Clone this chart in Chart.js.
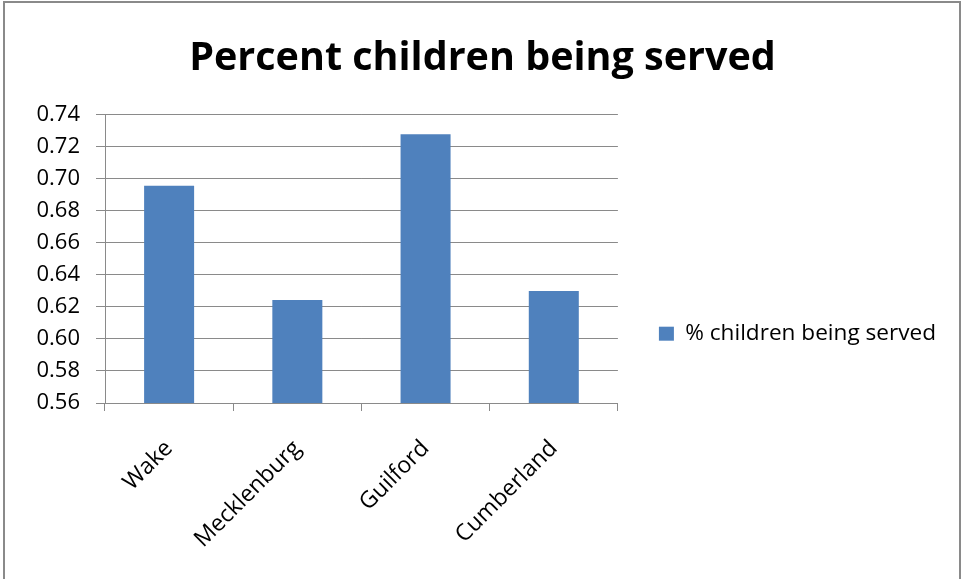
<!DOCTYPE html>
<html>
<head>
<meta charset="utf-8">
<script src="https://cdn.jsdelivr.net/npm/chart.js@4.4.0/dist/chart.umd.min.js"></script>
<style>
  html, body { margin: 0; padding: 0; background: #fff; }
  #wrap { position: relative; width: 964px; height: 579px; }
</style>
</head>
<body>
<div id="wrap"><canvas id="myChart" width="964" height="579"></canvas></div>
<script>
const counties = ['Wake', 'Mecklenburg', 'Guilford', 'Cumberland']
const served = [0.6955, 0.6242, 0.7276, 0.6298]
const seriesName = '% children being served'
const chartTitle = 'Percent children being served'

const fontName = "'Open Sans', 'Noto Sans', sans-serif"

// grey frame round the whole chart
const frame = {
    id: 'frame',
    beforeDraw(chart) {
        const ctx = chart.ctx
        ctx.save()
        ctx.fillStyle = '#fff'
        ctx.fillRect(0, 0, chart.width, chart.height)
        ctx.strokeStyle = '#8a8a8a'
        ctx.lineWidth = 2
        ctx.strokeRect(4, 2, 956, 600)
        ctx.restore()
    }
}

const ctx = document.getElementById('myChart').getContext('2d')
const myChart = new Chart(ctx, {
    type: 'bar',
    data: {
        labels: counties,
        datasets: [{
            label: seriesName,
            data: served,
            backgroundColor: '#4F81BD',
            borderWidth: 0,
            categoryPercentage: 1,
            barPercentage: 0.39
        }]
    },
    options: {
        responsive: false,
        animation: false,
        layout: { padding: { left: 19, right: 18, top: 0, bottom: 0 } },
        plugins: {
            title: {
                display: true,
                text: chartTitle,
                color: '#000',
                font: { family: fontName, size: 39.5, weight: 'bold' },
                padding: { top: 35, bottom: 32 }
            },
            legend: {
                position: 'right',
                maxWidth: 400,
                // empty title only pushes the item down a bit
                title: { display: true, text: '', font: { size: 12 }, padding: { top: 74, bottom: 0 } },
                labels: {
                    color: '#000',
                    font: { family: fontName, size: 22.6 },
                    boxWidth: 15,
                    boxHeight: 14,
                    padding: 41
                }
            },
            tooltip: { enabled: false }
        },
        scales: {
            x: {
                grid: { drawOnChartArea: false, drawTicks: true, tickLength: 8, color: '#8a8a8a' },
                border: { color: '#8a8a8a' },
                ticks: {
                    color: '#000',
                    font: { family: fontName, size: 23 },
                    minRotation: 45,
                    maxRotation: 45,
                    padding: 24
                },
                afterFit(scale) { scale.height = 176 }
            },
            y: {
                min: 0.56,
                max: 0.74,
                grid: { color: '#8a8a8a', tickLength: 9 },
                border: { color: '#8a8a8a' },
                ticks: {
                    stepSize: 0.02,
                    color: '#000',
                    font: { family: fontName, size: 22 },
                    padding: 16,
                    callback: (v) => v.toFixed(2)
                },
                afterFit(scale) { scale.width = 86 }
            }
        }
    },
    plugins: [frame]
})
</script>
</body>
</html>
